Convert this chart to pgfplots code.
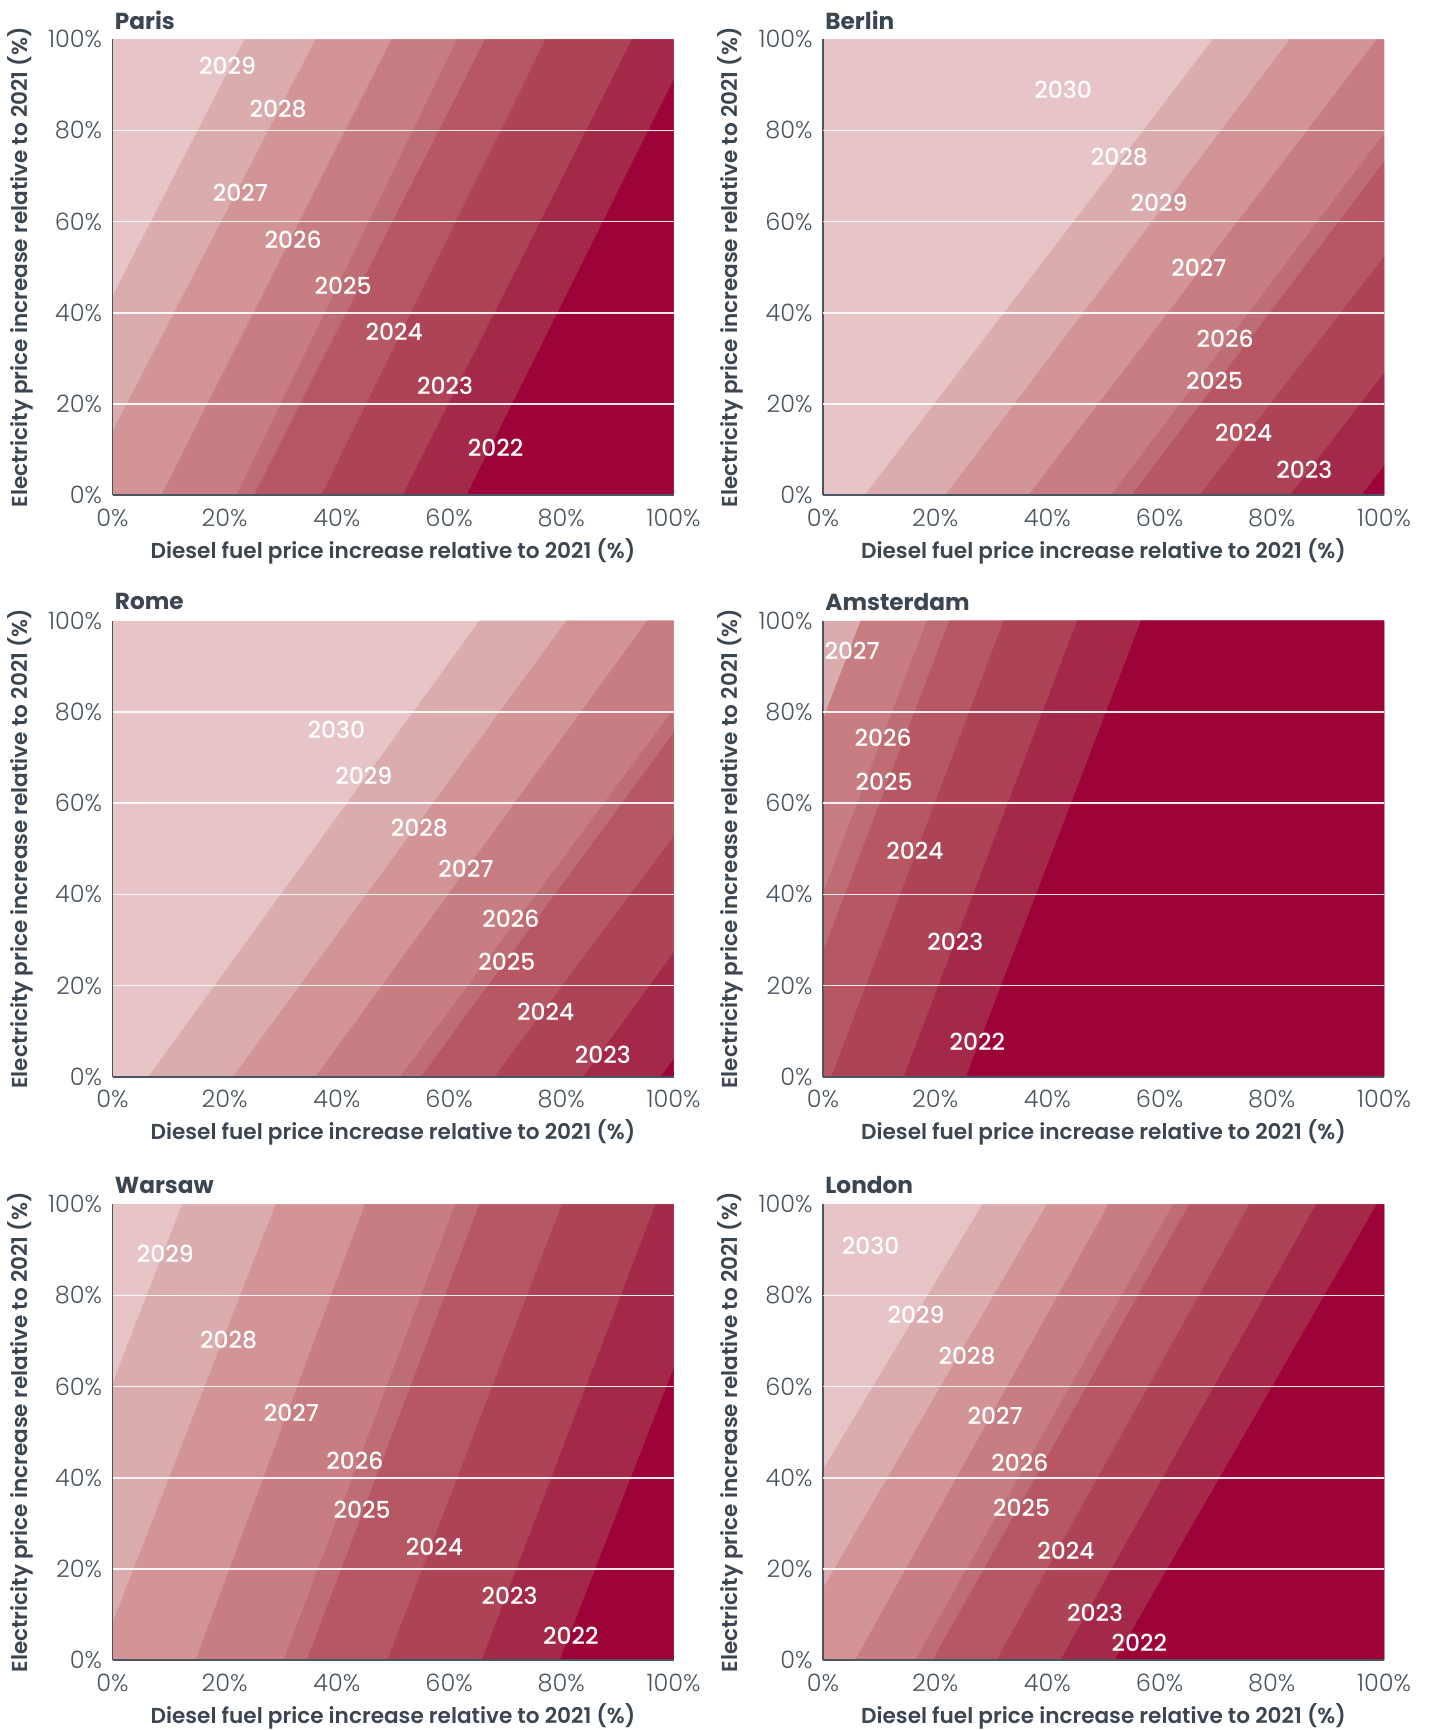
\documentclass[border=0pt]{standalone}
\usepackage{fontspec}
\setmainfont{Poppins}[BoldFont={Poppins SemiBold}]
\newfontfamily\poplight{Poppins Light}
\newfontfamily\popmed{Poppins Medium}
\newfontfamily\popbold{Poppins Bold}
\usepackage{pgfplots}
\pgfplotsset{compat=1.18}
\definecolor{c1}{HTML}{E7C5C6}
\definecolor{c2}{HTML}{DBACAD}
\definecolor{c3}{HTML}{D29497}
\definecolor{c4}{HTML}{C77D82}
\definecolor{c5}{HTML}{BF6D74}
\definecolor{c6}{HTML}{B75763}
\definecolor{c7}{HTML}{AD4356}
\definecolor{c8}{HTML}{A42949}
\definecolor{c9}{HTML}{9D0339}
\definecolor{axgray}{HTML}{4A5561}
\definecolor{txt}{HTML}{3B4651}
\definecolor{ticktxt}{HTML}{4B5560}

\newcommand{\band}[3]{\addplot[fill=#1, draw=none, forget plot] coordinates {(#2,0) (#3,100) (400,100) (400,0)} -- cycle;}
\newcommand{\base}[1]{\addplot[fill=#1, draw=none, forget plot] coordinates {(-50,0) (-50,100) (400,100) (400,0)} -- cycle;}
\newcommand{\yr}[3]{\node[yl] at (axis cs:#1,#2) {#3};}

\tikzset{yl/.style={text=white, font=\popmed\fontsize{11.7}{13}\selectfont, inner sep=0pt}}

\pgfplotsset{
 panel/.style={
  scale only axis, width=280.5pt, height=228pt,
  anchor=south west,
  xmin=0, xmax=100, ymin=0, ymax=100,
  axis on top, clip=true,
  axis x line*=bottom, axis y line*=left,
  axis line style={-, draw=axgray, line width=0.9pt},
  every outer x axis line/.append style={-},
  every outer y axis line/.append style={-},
  xtick={0,20,40,60,80,100}, ytick={0,20,40,60,80,100},
  xticklabels={0\%,20\%,40\%,60\%,80\%,100\%},
  yticklabels={0\%,20\%,40\%,60\%,80\%,100\%},
  major tick length=0pt, tick style={draw=none},
  extra y ticks={20,40,60,80}, extra y tick labels={},
  extra y tick style={grid=major, major grid style={white, line width=0.75pt, opacity=0.9}},
  tick label style={font=\poplight\fontsize{12}{14}\selectfont, text=ticktxt},
  xticklabel style={anchor=center, yshift=-11.2pt},
  yticklabel style={anchor=east, inner sep=0pt, xshift=-5pt},
  xlabel={Diesel fuel price increase relative to 2021 (\%)},
  ylabel={Electricity price increase relative to 2021 (\%)},
  label style={font=\bfseries\fontsize{10.8}{13}\selectfont, text=txt},
  xlabel style={at={(axis description cs:0.5,-0.122)}, anchor=center},
  ylabel style={at={(axis description cs:-0.165,0.5)}, anchor=center},
  title style={at={(axis description cs:0,1)}, anchor=west, inner sep=0pt, yshift=3.4pt, xshift=1pt, font=\popbold\fontsize{11.6}{13}\selectfont, text=txt},
 }
}

\begin{document}
\begin{tikzpicture}
\path[use as bounding box] (0,0) rectangle (716pt,865pt);

% Paris
\begin{axis}[panel, at={(56.25pt,617.35pt)}, title={Paris}]
\base{c1}
\band{c2}{-18.2}{23.5}
\band{c3}{-5.9}{36.2}
\band{c4}{8.7}{49.7}
\band{c5}{22.1}{61.4}
\band{c6}{25.2}{66.4}
\band{c7}{37.2}{77.2}
\band{c8}{51.7}{92.6}
\band{c9}{63.1}{103.6}
\yr{20.5}{94.3}{2029}
\yr{29.5}{84.8}{2028}
\yr{22.8}{66.4}{2027}
\yr{32.2}{56.0}{2026}
\yr{41.1}{46.0}{2025}
\yr{50.2}{35.9}{2024}
\yr{59.3}{24.1}{2023}
\yr{68.3}{10.4}{2022}
\end{axis}

% Berlin
\begin{axis}[panel, at={(411.5pt,617.35pt)}, title={Berlin}]
\base{c1}
\band{c2}{7.4}{69.5}
\band{c3}{21.8}{83.2}
\band{c4}{36.6}{98.7}
\band{c5}{51.3}{112.7}
\band{c6}{55.0}{116.5}
\band{c7}{67.1}{130.0}
\band{c8}{83.2}{145.9}
\band{c9}{96.0}{158.0}
\yr{42.8}{89.0}{2030}
\yr{52.8}{74.1}{2028}
\yr{59.9}{64.2}{2029}
\yr{67.0}{49.8}{2027}
\yr{71.7}{34.3}{2026}
\yr{69.8}{25.0}{2025}
\yr{75.0}{13.8}{2024}
\yr{85.8}{5.6}{2023}
\end{axis}

% Rome
\begin{axis}[panel, at={(56.25pt,326.65pt)}, title={Rome}]
\base{c1}
\band{c2}{6.4}{65.4}
\band{c3}{21.5}{80.9}
\band{c4}{36.2}{95.3}
\band{c5}{51.3}{111.8}
\band{c6}{55.0}{114.7}
\band{c7}{68.1}{128.6}
\band{c8}{83.9}{143.1}
\band{c9}{97.7}{157.7}
\yr{39.9}{76.1}{2030}
\yr{44.8}{65.9}{2029}
\yr{54.7}{54.5}{2028}
\yr{63.0}{45.6}{2027}
\yr{71.0}{34.7}{2026}
\yr{70.3}{25.3}{2025}
\yr{77.2}{14.2}{2024}
\yr{87.4}{4.9}{2023}
\end{axis}

% Amsterdam
\begin{axis}[panel, at={(411.5pt,326.65pt)}, title={Amsterdam}]
\base{c2}
\band{c4}{-24.3}{6.7}
\band{c5}{-12.5}{18.5}
\band{c6}{-8.5}{22.5}
\band{c7}{1.5}{32.2}
\band{c8}{14.4}{45.3}
\band{c9}{25.5}{56.7}
\yr{5.2}{93.5}{2027}
\yr{10.7}{74.4}{2026}
\yr{10.9}{64.6}{2025}
\yr{16.4}{49.5}{2024}
\yr{23.6}{29.5}{2023}
\yr{27.5}{7.6}{2022}
\end{axis}

% Warsaw
\begin{axis}[panel, at={(56.25pt,34.85pt)}, title={Warsaw}]
\base{c1}
\band{c2}{-19.2}{12.4}
\band{c3}{-2.6}{29.1}
\band{c4}{14.8}{45.0}
\band{c5}{30.5}{61.1}
\band{c6}{34.6}{65.4}
\band{c7}{49.0}{80.1}
\band{c8}{65.8}{96.8}
\band{c9}{79.7}{111.4}
\yr{9.4}{89.1}{2029}
\yr{20.7}{70.2}{2028}
\yr{31.9}{54.3}{2027}
\yr{43.2}{43.8}{2026}
\yr{44.5}{33.0}{2025}
\yr{57.4}{25.0}{2024}
\yr{70.8}{14.2}{2023}
\yr{81.7}{5.3}{2022}
\end{axis}

% London
\begin{axis}[panel, at={(411.5pt,34.85pt)}, title={London}]
\base{c1}
\band{c2}{-20.4}{28.4}
\band{c3}{-7.5}{39.9}
\band{c4}{5.7}{50.9}
\band{c5}{16.4}{62.4}
\band{c6}{19.5}{65.3}
\band{c7}{30.9}{76.0}
\band{c8}{42.3}{87.9}
\band{c9}{52.0}{98.7}
\yr{8.5}{91.0}{2030}
\yr{16.6}{75.7}{2029}
\yr{25.7}{66.7}{2028}
\yr{30.7}{53.6}{2027}
\yr{35.1}{43.4}{2026}
\yr{35.4}{33.5}{2025}
\yr{43.3}{24.1}{2024}
\yr{48.5}{10.4}{2023}
\yr{56.4}{3.8}{2022}
\end{axis}
\end{tikzpicture}
\end{document}
